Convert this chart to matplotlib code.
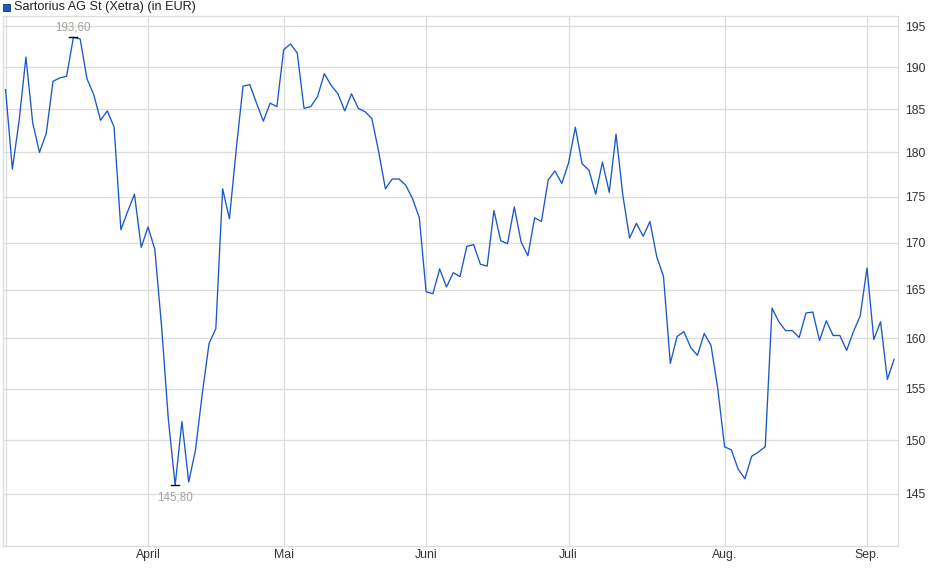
import matplotlib
matplotlib.use("Agg")
from matplotlib import pyplot as plt
from matplotlib.ticker import FixedLocator, FixedFormatter, NullLocator
from matplotlib.patches import Rectangle

# Sartorius AG St (Xetra), daily closes, 3 March - 5 September (trading days)
prices = [
    187.3, 178.1, 183.7, 191.2, 183.4, 180.0, 182.2, 188.3, 188.7, 188.9,
    193.6, 193.4, 188.6, 186.7, 183.7, 184.8, 182.9, 171.4, 173.4, 175.3,
    169.5, 171.7, 169.3, 161.2, 152.0, 145.8, 151.8, 146.1, 149.1, 154.5,
    159.5, 161.0, 175.9, 172.6, 180.3, 187.7, 187.9, 185.7, 183.6, 185.7,
    185.3, 192.1, 192.8, 191.7, 185.1, 185.3, 186.5, 189.2, 187.8, 186.8,
    184.8, 186.8, 185.1, 184.7, 183.9, 180.1, 175.9, 177.0, 177.0, 176.3,
    174.8, 172.7, 164.8, 164.6, 167.2, 165.3, 166.8, 166.4, 169.6, 169.8,
    167.7, 167.5, 173.5, 170.2, 169.9, 173.9, 170.1, 168.6, 172.7, 172.3,
    176.9, 177.9, 176.5, 178.8, 182.9, 178.7, 178.0, 175.3, 178.9, 175.5,
    182.1, 175.2, 170.5, 172.1, 170.7, 172.3, 168.5, 166.4, 157.5, 160.2,
    160.7, 159.1, 158.3, 160.5, 159.3, 155.0, 149.4, 149.1, 147.3, 146.4,
    148.5, 148.9, 149.4, 163.1, 161.7, 160.8, 160.8, 160.1, 162.6, 162.7,
    159.8, 161.8, 160.3, 160.3, 158.8, 160.7, 162.3, 167.3, 159.9, 161.7,
    155.9, 157.9,
]
days = list(range(len(prices)))

# first trading day of each month (index into prices)
month_pos = [0, 21, 41, 62, 83, 106, 127]
month_labels = ["", "April", "Mai", "Juni", "Juli", "Aug.", "Sep."]

y_ticks = [145, 150, 155, 160, 165, 170, 175, 180, 185, 190, 195]

hi_label = "193,60"
lo_label = "145,80"

plt.rcParams['font.family'] = ['Liberation Sans', 'DejaVu Sans']

fig = plt.figure(figsize=(9.4, 5.79), dpi=100)
ax = fig.add_axes([3 / 940, 33 / 579, 895 / 940, 530 / 579])

grid_col = "#dcdcdc"
line_col = "#1a58c8"

ax.plot(days, prices, color=line_col, lw=0.95, zorder=3)

ax.set_yscale("log")
ax.set_ylim(140.3, 196.24)
ax.set_xlim(-0.38, 131.57)

ax.yaxis.set_major_locator(FixedLocator(y_ticks))
ax.yaxis.set_major_formatter(FixedFormatter([str(t) for t in y_ticks]))
ax.yaxis.set_minor_locator(NullLocator())
ax.yaxis.tick_right()
ax.tick_params(axis="y", length=0, pad=5, labelsize=8.8, labelcolor="#333333")

ax.xaxis.set_major_locator(FixedLocator(month_pos))
ax.xaxis.set_major_formatter(FixedFormatter(month_labels))
ax.tick_params(axis="x", length=0, pad=2, labelsize=8.8, labelcolor="#333333")

ax.grid(True, color=grid_col, lw=0.9, zorder=0)
for s in ax.spines.values():
    s.set_color(grid_col)
    s.set_linewidth(0.9)

# max / min markers
i_hi = prices.index(max(prices))
i_lo = prices.index(min(prices))
ax.plot([i_hi - 0.6, i_hi + 0.6], [prices[i_hi]] * 2, color="black", lw=1.0, zorder=4)
ax.plot([i_lo - 0.6, i_lo + 0.6], [prices[i_lo]] * 2, color="black", lw=1.0, zorder=4)
ax.annotate(hi_label, (i_hi, prices[i_hi]), xytext=(0, 3), textcoords="offset points",
            ha="center", va="bottom", fontsize=8.4, color="#a8a29c")
ax.annotate(lo_label, (i_lo, prices[i_lo]), xytext=(0, -4.5), textcoords="offset points",
            ha="center", va="top", fontsize=8.4, color="#a8a29c")

# title with legend square
fig.patches.append(Rectangle((3 / 940, 1 - 11 / 579), 7 / 940, 7 / 579,
                             transform=fig.transFigure, facecolor=line_col,
                             edgecolor="#1b2f6b", lw=0.6))
fig.text(14 / 940, 1 - 7 / 579, "Sartorius AG St (Xetra) (in EUR)", ha="left", va="center",
         fontsize=9.1, color="#222222")

fig.savefig("out.png", dpi=100)
